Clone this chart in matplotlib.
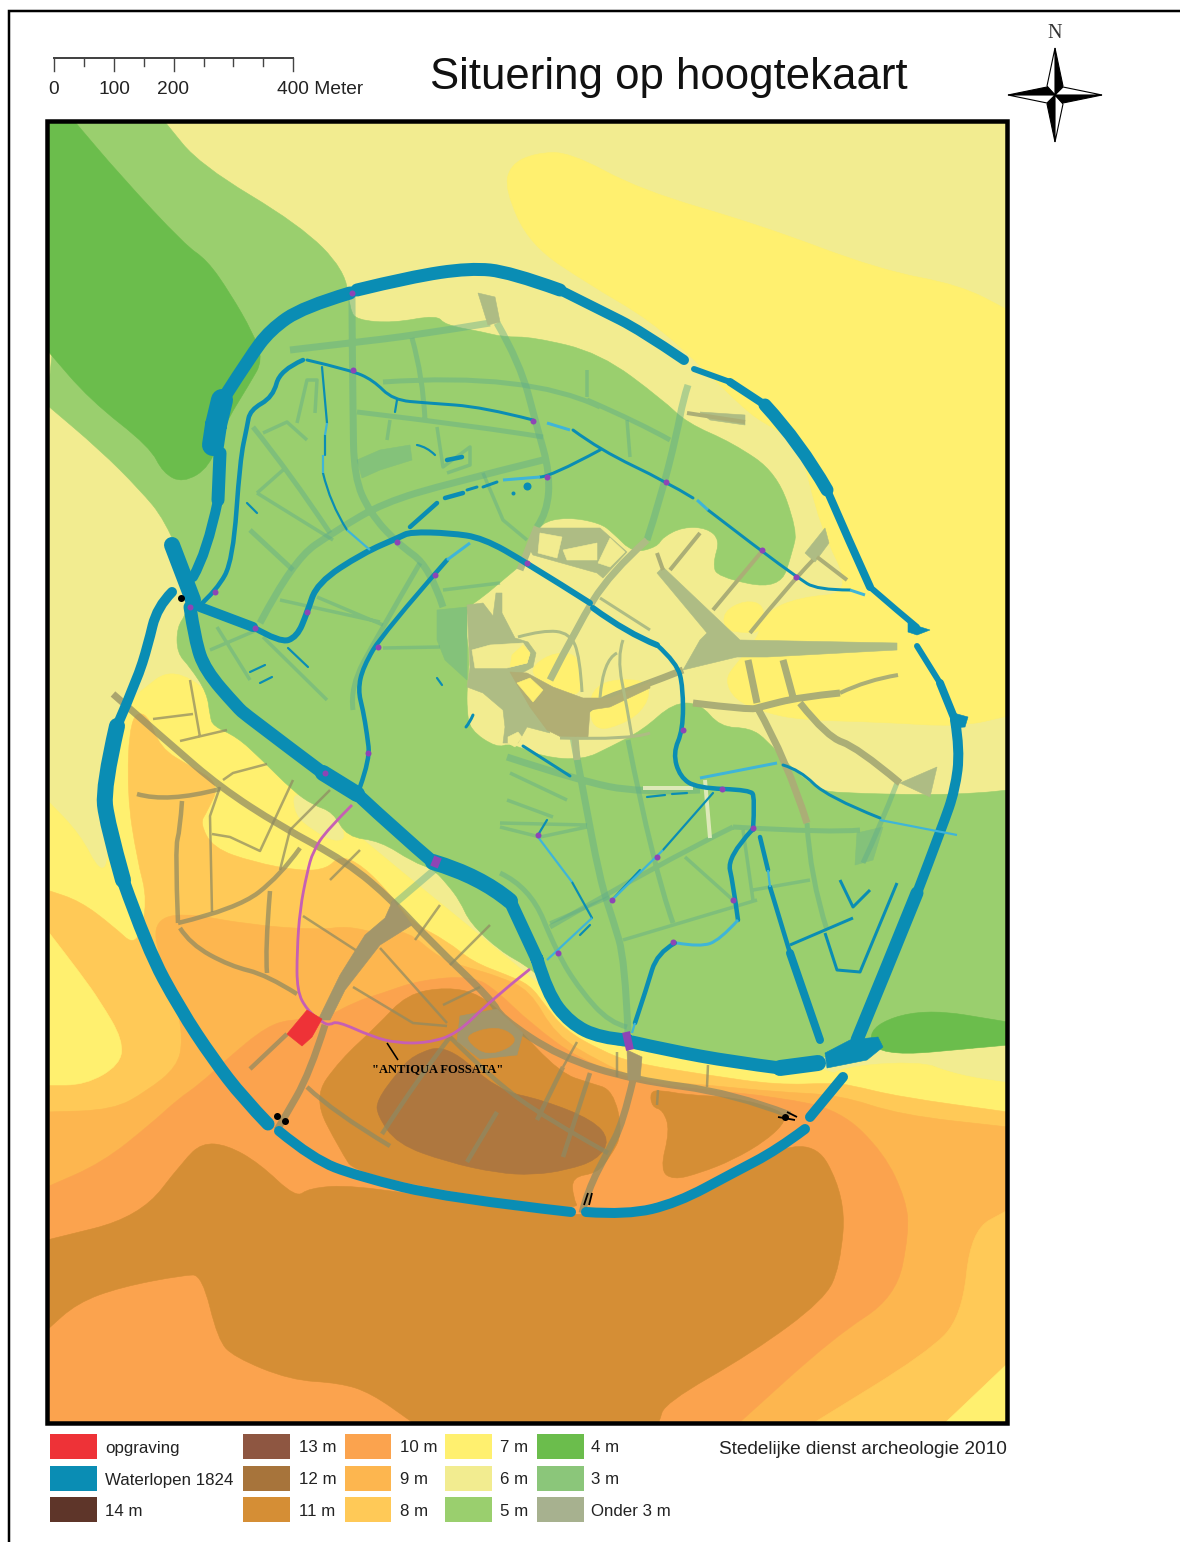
import matplotlib
matplotlib.use("Agg")
import matplotlib.pyplot as plt
from matplotlib.path import Path
from matplotlib.patches import PathPatch, Polygon, Rectangle

plt.rcParams['font.family'] = ['Liberation Sans', 'DejaVu Sans']

# all geometry, in picture pixels
h6_base = [(47, 122), (1008, 122), (1008, 1422), (47, 1422)]
h7_ne = [(505, 190), (510, 165), (535, 153), (570, 152), (640, 190), (760, 225), (880, 270), (960, 285), (1008, 310),
         (1008, 716), (960, 727), (880, 722), (800, 720), (763, 712), (735, 700), (725, 680), (735, 665), (757, 640),
         (765, 612), (800, 597), (853, 593), (820, 527), (800, 443), (767, 425), (745, 410), (700, 365), (650, 320),
         (590, 285), (530, 245)]
h7_patches = [[(590, 682), (647, 678), (650, 700), (630, 722), (590, 733)],
              [(533, 665), (555, 652), (580, 655), (582, 697), (560, 690), (533, 677)],
              [(723, 612), (745, 600), (765, 605), (762, 632), (745, 633), (725, 630)]]
h7_sw = [(47, 800), (80, 834), (100, 873), (110, 860), (113, 713), (130, 700), (180, 660), (260, 750), (350, 830),
         (560, 1000), (600, 1040), (850, 1068), (850, 1100), (600, 1090), (300, 1000), (137, 960), (47, 905)]
h7_sw_patch = [[(47, 930), (80, 973), (100, 1001), (123, 1040), (120, 1065), (85, 1085), (47, 1085)]]
h7_se = [(820, 1070), (917, 1060), (960, 1075), (1008, 1082), (1008, 1120), (840, 1100)]
h6_sw_patch = [(293, 790), (320, 808), (333, 812), (347, 837), (335, 842), (313, 830), (295, 815)]
h8_sw = [(47, 890), (80, 901), (113, 926), (137, 948), (148, 901), (137, 859), (127, 794), (130, 716), (147, 712),
         (160, 748), (190, 766), (220, 784), (207, 812), (200, 823), (213, 848), (253, 862), (300, 871), (327, 869),
         (340, 855), (363, 866), (390, 894), (413, 923), (447, 941), (473, 962), (507, 975), (530, 985), (545, 1005),
         (565, 1030), (600, 1050), (633, 1063), (707, 1075), (777, 1085), (833, 1083), (850, 1085), (900, 1097),
         (1008, 1112), (1008, 1422), (47, 1422)]
h7_se_corner = [(1008, 1363), (985, 1385), (946, 1422), (1008, 1422)]
h9_main = [(47, 1112), (113, 1110), (147, 1091), (177, 1067), (183, 1040), (176, 1000), (160, 960), (153, 923),
           (180, 912), (250, 925), (320, 930), (347, 926), (380, 934), (407, 930), (440, 959), (473, 969), (497, 976),
           (530, 990), (555, 1035), (600, 1062), (640, 1080), (707, 1085), (777, 1092), (840, 1095), (900, 1115),
           (1008, 1127), (1008, 1210), (971, 1230), (962, 1317), (927, 1353), (815, 1422), (47, 1422)]
h8_se = [(1008, 1210), (971, 1230), (962, 1317), (927, 1353), (815, 1422), (946, 1422), (985, 1385), (1008, 1363)]
h10_main = [(47, 1187), (102, 1163), (152, 1123), (177, 1100), (200, 1084), (227, 1059), (267, 1026), (293, 1019),
            (323, 1019), (357, 1001), (380, 994), (420, 980), (473, 976), (497, 991), (530, 1023), (580, 1060),
            (643, 1083), (707, 1090), (777, 1097), (840, 1110), (884, 1153), (906, 1200), (909, 1233), (896, 1297),
            (834, 1337), (740, 1422), (47, 1422)]
h11_south = [(47, 1240), (140, 1217), (184, 1160), (202, 1143), (227, 1145), (259, 1163), (296, 1198), (309, 1188),
             (352, 1185), (450, 1200), (580, 1220), (700, 1195), (809, 1130), (846, 1197), (840, 1267), (824, 1300),
             (752, 1353), (665, 1403), (659, 1422), (412, 1422), (371, 1393), (340, 1383), (290, 1380), (234, 1357),
             (218, 1340), (202, 1275), (184, 1275), (121, 1287), (77, 1303), (47, 1330)]
h11_centre = [(313, 1098), (340, 1060), (377, 1026), (407, 994), (447, 987), (480, 994), (513, 1023), (560, 1073),
              (590, 1083), (613, 1090), (623, 1133), (610, 1157), (597, 1173), (572, 1177), (573, 1197), (580, 1212),
              (357, 1176), (340, 1150)]
h11_east = [(650, 1092), (660, 1090), (687, 1095), (733, 1097), (780, 1110), (787, 1120), (767, 1140), (733, 1160),
            (700, 1173), (673, 1180), (660, 1170), (670, 1130), (663, 1110), (652, 1107)]
h12_core = [(377, 1100), (397, 1073), (413, 1055), (447, 1044), (497, 1090), (543, 1100), (593, 1120), (610, 1140),
            (597, 1160), (567, 1170), (533, 1175), (497, 1173), (447, 1162), (397, 1144), (377, 1115)]
h5_main = [(75, 122), (165, 122), (200, 165), (300, 225), (345, 270), (350, 310), (357, 320), (393, 323), (437, 315),
           (445, 325), (483, 332), (503, 337), (533, 337), (600, 353), (663, 400), (687, 423), (733, 443), (777, 473),
           (797, 530), (793, 550), (780, 590), (717, 577), (713, 563), (720, 540), (707, 528), (683, 527), (663, 537),
           (657, 547), (633, 553), (613, 533), (600, 523), (567, 517), (540, 523), (532, 543), (527, 560), (503, 580),
           (483, 597), (468, 607), (465, 627), (470, 657), (467, 687), (467, 710), (470, 730), (497, 748), (510, 743),
           (543, 757), (583, 760), (610, 747), (643, 730), (673, 703), (700, 703), (720, 727), (750, 728), (767, 740),
           (793, 770), (820, 790), (840, 793), (930, 795), (980, 793), (1008, 790), (1008, 1030), (923, 1015),
           (867, 1040), (860, 1045), (823, 1060), (733, 1062), (633, 1050), (573, 1033), (543, 980), (527, 966),
           (500, 951), (470, 923), (460, 901), (447, 884), (433, 869), (413, 862), (380, 841), (347, 837), (333, 812),
           (313, 805), (293, 791), (260, 758), (237, 737), (213, 726), (210, 716), (207, 693), (190, 667), (177, 653),
           (177, 627), (187, 613), (190, 580), (165, 520), (140, 490), (100, 450), (47, 405)]
h4_nw = [(47, 122), (75, 122), (120, 175), (185, 245), (207, 260), (230, 293), (253, 333), (263, 360), (250, 383),
         (223, 427), (210, 467), (183, 483), (163, 473), (150, 447), (90, 400), (47, 350)]
h4_se = [(867, 1027), (923, 1008), (1008, 1022), (1008, 1045), (987, 1047), (877, 1057)]
h6_se = [(917, 1060), (987, 1045), (1008, 1060), (1008, 1082), (960, 1075)]
h3_patches = [[(437, 610), (467, 607), (467, 680), (445, 660), (437, 640)],
              [(357, 460), (380, 450), (410, 445), (412, 460), (380, 470), (362, 478)],
              [(857, 833), (883, 827), (873, 860), (855, 865)]]

roads_green_wide = [[(352, 297), (352, 317), (353, 410), (354, 477), (370, 513), (397, 543), (430, 567), (443, 607)],
                    [(497, 323), (520, 363), (537, 427), (550, 473), (547, 513), (537, 527)],
                    [(260, 623), (293, 560), (337, 530), (383, 503), (450, 483), (543, 460)],
                    [(290, 350), (350, 343), (417, 335), (490, 323)],
                    [(688, 385), (683, 400), (677, 433), (660, 500), (647, 540)],
                    [(573, 737), (583, 790), (600, 880), (613, 920), (625, 960), (628, 1033)],
                    [(507, 757), (577, 780), (640, 793), (700, 790)],
                    [(393, 905), (440, 865)]]
roads_green_mid = [[(412, 338), (423, 377), (425, 420)], [(383, 382), (527, 372), (600, 407)],
                   [(357, 412), (483, 427), (543, 437)], [(253, 427), (290, 473), (330, 533)],
                   [(353, 710), (350, 687), (377, 637), (420, 563)], [(628, 740), (653, 867), (673, 923)],
                   [(733, 827), (660, 863), (550, 927)], [(733, 827), (833, 833), (860, 830)],
                   [(500, 873), (530, 887), (557, 953), (580, 990), (610, 1023), (627, 1027)],
                   [(807, 823), (810, 877), (827, 930)], [(897, 783), (880, 827), (863, 863)],
                   [(587, 400), (640, 423), (670, 440)], [(250, 530), (293, 570)]]
roads_green_thin = [[(280, 600), (380, 622)], [(317, 597), (383, 625)], [(210, 650), (257, 630)],
                    [(263, 637), (327, 700)], [(383, 648), (440, 647)], [(443, 590), (500, 583)],
                    [(390, 420), (387, 440)], [(437, 427), (443, 467), (470, 447), (470, 465), (447, 473)],
                    [(483, 473), (503, 520), (527, 540)], [(587, 370), (587, 397)], [(257, 493), (283, 470)],
                    [(263, 433), (287, 422), (307, 440)], [(297, 423), (307, 380), (317, 380), (315, 413)],
                    [(257, 493), (333, 540)], [(627, 420), (630, 457)], [(510, 773), (567, 800)],
                    [(507, 800), (553, 817)], [(500, 823), (587, 825)], [(753, 890), (810, 880)],
                    [(623, 940), (757, 900)], [(685, 857), (733, 900)], [(743, 830), (753, 900)],
                    [(550, 923), (610, 897)], [(500, 827), (540, 837), (587, 827)], [(217, 627), (250, 680)]]
roads_pale_wide = [[(693, 703), (750, 710), (760, 707), (800, 697), (840, 693)], [(757, 707), (787, 760), (807, 823)],
                   [(800, 703), (827, 737), (857, 747), (900, 783)], [(748, 660), (757, 703)],
                   [(783, 660), (793, 697)], [(683, 670), (640, 687), (600, 700), (587, 710)]]
roads_pale_thin = [[(840, 693), (867, 680), (898, 675)], [(687, 413), (745, 422)], [(700, 533), (670, 570)],
                   [(763, 550), (713, 610)], [(813, 560), (787, 587), (750, 633)], [(817, 557), (847, 580)],
                   [(657, 553), (663, 570)]]
roads_centre_wide = [[(647, 540), (610, 573), (577, 627), (550, 680)], [(537, 527), (520, 570)], [(575, 737), (577, 760)]]
roads_centre_thin = [[(518, 637), (543, 630), (570, 633), (580, 657), (582, 692)],
                     [(623, 640), (617, 657), (627, 707), (632, 737)], [(617, 653), (603, 660), (600, 698)],
                     [(600, 598), (650, 630)], [(560, 738), (630, 740), (650, 733)]]
olive_polys = [[(657, 573), (663, 567), (740, 640), (897, 643), (897, 650), (767, 657), (737, 657), (683, 670),
                (700, 640), (707, 633)],
               [(537, 528), (600, 528), (627, 552), (603, 578), (597, 573), (533, 555), (530, 550)],
               [(825, 528), (829, 543), (815, 562), (805, 553)],
               [(900, 783), (937, 767), (930, 797)],
               [(478, 293), (495, 297), (500, 322), (488, 325)],
               [(745, 415), (745, 425), (710, 420), (700, 412)],
               [(467, 605), (483, 603), (493, 616), (496, 593), (502, 593), (502, 613), (515, 638), (528, 642),
                (536, 653), (533, 667), (522, 673), (540, 710), (550, 733), (527, 727), (518, 743), (503, 743),
                (505, 727), (503, 710), (483, 693), (467, 687), (470, 667)]]
olive_dark_polys = [[(510, 672), (527, 673), (553, 687), (583, 698), (610, 698), (650, 682), (650, 688), (610, 707),
                     (590, 710), (588, 737), (563, 738), (547, 730), (530, 707)]]
pale_holes = [[(540, 533), (562, 537), (557, 558), (538, 553)], [(563, 550), (597, 543), (597, 560), (567, 560)],
              [(598, 563), (610, 538), (625, 552), (610, 567)],
              [(472, 650), (490, 645), (523, 643), (530, 653), (527, 663), (507, 668), (475, 668)],
              [(508, 737), (518, 732), (522, 737), (515, 747), (508, 743)]]
yellow_over = [[(512, 655), (523, 645), (530, 653), (527, 663), (510, 667)], [(517, 683), (530, 678), (543, 690), (533, 702)]]
roads_south_wide = [[(113, 694), (170, 744), (220, 787), (280, 826), (347, 862), (393, 901), (430, 941), (493, 1001),
                     (500, 1017), (560, 1057), (633, 1080), (733, 1093), (790, 1115)],
                    [(325, 1025), (310, 1073), (283, 1120), (277, 1130)],
                    [(633, 1080), (623, 1123), (607, 1153), (588, 1190), (582, 1213)]]
roads_south_mid = [[(137, 794), (167, 803), (220, 789)], [(182, 801), (180, 830), (175, 848), (178, 923)],
                   [(178, 923), (237, 909), (280, 876), (300, 848)], [(270, 891), (265, 951), (267, 973)],
                   [(287, 1034), (250, 1069)], [(307, 1087), (333, 1112), (390, 1146)],
                   [(382, 1134), (417, 1080), (450, 1037)], [(450, 1037), (493, 1080), (547, 1119), (608, 1153)],
                   [(497, 1112), (467, 1162)], [(563, 1067), (537, 1120)], [(590, 1073), (563, 1157)],
                   [(180, 928), (190, 944), (230, 966), (267, 975), (297, 994)]]
roads_south_thin = [[(220, 787), (210, 816), (212, 912)], [(212, 834), (230, 837), (260, 851), (293, 780)],
                    [(153, 719), (193, 714)], [(180, 741), (227, 730)], [(190, 680), (200, 737)],
                    [(223, 780), (233, 773), (267, 764)], [(303, 916), (357, 951)], [(380, 948), (447, 1023)],
                    [(353, 987), (413, 1023), (447, 1026)], [(617, 1052), (617, 1077)], [(708, 1065), (707, 1087)],
                    [(658, 1090), (657, 1105)], [(577, 1042), (563, 1067)], [(443, 1005), (480, 987)],
                    [(330, 790), (290, 830), (280, 870)], [(360, 850), (330, 880)], [(415, 940), (440, 905)],
                    [(450, 965), (490, 925)]]
south_polys = [[(393, 900), (412, 925), (380, 945), (345, 990), (330, 1020), (318, 1020), (340, 975), (365, 935),
                (385, 918)],
               [(460, 1016), (497, 1009), (523, 1033), (517, 1055), (480, 1059), (457, 1041)],
               [(627, 1050), (642, 1057), (640, 1080), (628, 1080)]]
h11_hole = [(467, 1034), (497, 1026), (517, 1037), (510, 1048), (487, 1055), (470, 1044)]

water_polys = [[(850, 1040), (878, 1037), (883, 1047), (867, 1060), (827, 1068), (825, 1053)],
               [(908, 623), (930, 630), (917, 635), (908, 632)],
               [(950, 712), (968, 717), (965, 727), (952, 728)]]
water_20 = [[(213, 445), (216, 425)], [(216, 425), (222, 400)]]
water_16 = [[(323, 773), (357, 794)], [(433, 862), (480, 876), (510, 901)], [(172, 545), (193, 600)],
            [(818, 1063), (780, 1068)], [(117, 726), (103, 787), (107, 823), (123, 880)]]
water_13 = [[(218, 500), (220, 453)], [(190, 607), (195, 640), (205, 670), (237, 707), (247, 716), (323, 773)],
            [(357, 794), (400, 834), (433, 862)], [(510, 901), (537, 959)],
            [(227, 393), (250, 357), (270, 330), (303, 307), (350, 293)],
            [(357, 290), (410, 277), (470, 268), (510, 272), (560, 290)],
            [(917, 893), (883, 977), (857, 1040)], [(537, 959), (547, 993), (570, 1023), (600, 1038), (627, 1040)],
            [(632, 1042), (667, 1050), (733, 1062), (780, 1068)], [(765, 405), (800, 443), (827, 490)],
            [(123, 880), (147, 948), (180, 1009), (213, 1059), (243, 1098), (268, 1124)]]
water_10 = [[(193, 577), (207, 553), (218, 500)], [(560, 290), (600, 310), (640, 330), (684, 360)],
            [(172, 592), (157, 607), (148, 645), (137, 680), (117, 726)],
            [(955, 720), (960, 750), (955, 790), (943, 825), (917, 893)],
            [(586, 1212), (627, 1215), (677, 1203), (733, 1173), (777, 1150), (805, 1129)],
            [(810, 1117), (843, 1077)], [(200, 607), (253, 627)],
            [(279, 1131), (313, 1159), (357, 1176), (447, 1198), (571, 1212)]]
water_8 = [[(730, 382), (765, 405)], [(827, 490), (850, 543), (870, 587)], [(940, 683), (955, 720)],
           [(790, 953), (820, 1040)]]
water_6 = [[(694, 369), (730, 382)], [(870, 587), (900, 613), (917, 627)], [(917, 646), (940, 683)],
           [(253, 627), (280, 643), (297, 637), (307, 613), (317, 583), (363, 553), (400, 537), (410, 532), (450, 533),
            (483, 538), (527, 563), (590, 603)],
           [(593, 608), (627, 633), (657, 645)]]
water_4 = [[(657, 645), (677, 663), (683, 687), (683, 730), (673, 753), (680, 777), (697, 788), (750, 790), (755, 797),
            (753, 830)],
           [(198, 607), (217, 590), (233, 560), (240, 460), (247, 427), (250, 410), (273, 397), (280, 370), (303, 360)],
           [(447, 560), (383, 633), (363, 667), (358, 690), (363, 710), (367, 734), (370, 759), (360, 787)],
           [(410, 527), (437, 503)], [(445, 498), (463, 493)], [(675, 943), (657, 953), (647, 987), (635, 1023)],
           [(752, 830), (727, 857), (733, 883), (738, 920)], [(760, 837), (768, 870)], [(770, 887), (790, 953)],
           [(447, 460), (462, 457)]]
water_3 = [[(307, 360), (350, 370), (373, 380), (393, 400), (427, 403), (483, 407), (533, 420)],
           [(573, 430), (600, 450), (667, 482), (693, 498)],
           [(708, 510), (760, 550), (797, 577), (817, 590), (850, 590)], [(783, 765), (800, 770), (827, 797), (880, 818)],
           [(540, 477), (550, 477), (600, 450)], [(467, 490), (477, 487)], [(483, 487), (497, 482)],
           [(523, 746), (570, 776)], [(473, 715), (470, 722), (466, 727)]]
water_sharp = [[(790, 945), (853, 918)], [(840, 880), (853, 907), (870, 890)],
               [(825, 933), (837, 970), (860, 972), (897, 883)]]
water_2 = [[(322, 367), (327, 423)], [(325, 435), (325, 455)], [(323, 473), (330, 503), (347, 530)],
           [(397, 400), (395, 412)], [(247, 503), (257, 513)], [(250, 672), (265, 665)], [(260, 683), (272, 677)],
           [(288, 648), (308, 667)], [(437, 678), (442, 685)], [(417, 445), (427, 447), (435, 455)],
           [(647, 797), (665, 795)], [(672, 794), (687, 793)], [(713, 793), (663, 850)], [(547, 820), (538, 835)],
           [(572, 882), (592, 918)], [(640, 870), (612, 900)], [(590, 925), (580, 935)]]
water_light_3 = [[(547, 423), (570, 430)], [(503, 480), (540, 477)], [(697, 500), (708, 510)], [(470, 543), (447, 560)],
                 [(700, 778), (777, 763)], [(738, 920), (720, 940), (700, 947), (677, 943)], [(850, 590), (865, 595)]]
water_light_2 = [[(347, 530), (370, 550)], [(880, 820), (957, 835)], [(538, 837), (572, 882)], [(663, 850), (612, 900)],
                 [(592, 918), (547, 960)], [(327, 423), (325, 435)], [(323, 455), (323, 473)], [(768, 870), (770, 887)],
                 [(635, 1023), (632, 1033)]]
pale_lines = [[(643, 788), (693, 788)], [(705, 780), (710, 838)]]
water_dots_big = [(527, 486)]
water_dots_small = [(513, 493)]
bridges = [(352, 293), (353, 370), (533, 421), (547, 477), (397, 542), (527, 563), (435, 575), (307, 612), (255, 628),
           (378, 647), (215, 592), (190, 607), (666, 482), (762, 550), (796, 577), (683, 730), (722, 789), (753, 828),
           (657, 857), (325, 773), (368, 753), (612, 900), (558, 953), (673, 942), (733, 900), (538, 835)]
bridges_big = [[(438, 857), (434, 867)], [(626, 1032), (630, 1050)]]
black_bits = [(181, 598), (277, 1116), (285, 1121), (785, 1117)]
black_lines = [[(584, 1205), (588, 1193)], [(589, 1205), (592, 1193)], [(778, 1117), (795, 1120)],
               [(787, 1112), (797, 1117)]]

ditch_line = [(352, 805), (327, 830), (313, 851), (307, 873), (300, 909), (297, 951), (297, 991), (307, 1010),
              (323, 1023), (330, 1025), (337, 1021), (373, 1037), (397, 1043), (427, 1043), (457, 1034), (490, 1001),
              (530, 969)]
leader_line = [(387, 1043), (398, 1060)]
dig_site = [(307, 1010), (322, 1019), (312, 1037), (302, 1046), (287, 1034)]
ditch_label = '"ANTIQUA FOSSATA"'

legend_labels = [["opgraving", "Waterlopen 1824", "14 m"], ["13 m", "12 m", "11 m"], ["10 m", "9 m", "8 m"],
                 ["7 m", "6 m", "5 m"], ["4 m", "3 m", "Onder 3 m"]]
legend_colors = [["#EE3237", "#0A8DB4", "#5E3529"], ["#8E5641", "#A7743B", "#D58E35"], ["#FBA34E", "#FDB64F", "#FFC957"],
                 ["#FFF06F", "#F2EC90", "#9ACF6E"], ["#6BBD4C", "#8BC67A", "#A7B18F"]]
legend_x = [50, 243, 345, 445, 537]
legend_text_x = [105, 299, 400, 500, 591]
legend_y = [1434, 1466, 1497]
scale_ticks = [54, 84, 114, 144, 174, 204, 233, 263, 293]
scale_labels = ["0", "100", "200", "400 Meter"]

WATER = "#0A8DB4"
LIGHT = "#3FB5D8"
PURPLE = "#8E45B5"


def px(w):
    return w * 0.72


def on_frame(p):
    return p[0] <= 47 or p[0] >= 1008 or p[1] <= 122 or p[1] >= 1422


def mid(a, b):
    return ((a[0] + b[0]) / 2, (a[1] + b[1]) / 2)


def closed_path(pts):
    # rounds every vertex except the ones on the map frame
    verts = [mid(pts[-1], pts[0])]
    codes = [Path.MOVETO]
    for i, p in enumerate(pts):
        end = mid(p, pts[(i + 1) % len(pts)])
        if on_frame(p):
            verts += [p, end]
            codes += [Path.LINETO, Path.LINETO]
        else:
            verts += [p, end]
            codes += [Path.CURVE3, Path.CURVE3]
    return Path(verts, codes)


def open_parts(g, smooth):
    if not smooth or len(g) < 3:
        return list(g), [Path.MOVETO] + [Path.LINETO] * (len(g) - 1)
    verts = [g[0]]
    codes = [Path.MOVETO]
    for i in range(1, len(g) - 1):
        end = g[-1] if i == len(g) - 2 else mid(g[i], g[i + 1])
        verts += [g[i], end]
        codes += [Path.CURVE3, Path.CURVE3]
    return verts, codes


fig = plt.figure(figsize=(11.8, 15.42), dpi=100)
ax = fig.add_axes([0, 0, 1, 1])
ax.set_xlim(0, 1180)
ax.set_ylim(1542, 0)
ax.axis("off")


def fill(pts, color, z=1, round_it=True):
    if round_it:
        ax.add_patch(PathPatch(closed_path(pts), fc=color, ec=color, lw=0.4, zorder=z))
    else:
        ax.add_patch(Polygon(pts, closed=True, fc=color, ec=color, lw=0.4, zorder=z))


def strokes(groups, width, color, z=3, alpha=1.0, cap="butt", smooth=True):
    verts, codes = [], []
    for g in groups:
        v, k = open_parts(g, smooth)
        verts += v
        codes += k
    ax.add_patch(PathPatch(Path(verts, codes), fc="none", ec=color, lw=px(width), alpha=alpha, zorder=z,
                           capstyle=cap, joinstyle="round"))


# height layers, painted from the base upwards
c = {"6": "#F2EC90", "7": "#FFF06F", "8": "#FFC957", "9": "#FDB64F", "10": "#FBA34E", "11": "#D58E35",
     "12": "#AE773F", "5": "#9ACF6E", "4": "#6BBD4C", "3": "#84C27A"}
fill(h6_base, c["6"], round_it=False)
fill(h7_ne, c["7"])
fill(h7_sw, c["7"])
fill(h7_se, c["7"])
fill(h6_sw_patch, c["6"])
fill(h8_sw, c["8"])
for p in h7_sw_patch:
    fill(p, c["7"])
fill(h9_main, c["9"])
fill(h8_se, c["8"])
fill(h7_se_corner, c["7"])
fill(h10_main, c["10"])
fill(h11_south, c["11"])
fill(h11_centre, c["11"])
fill(h11_east, c["11"])
fill(h12_core, c["12"])
fill(h5_main, c["5"])
fill(h4_nw, c["4"])
fill(h4_se, c["4"])
fill(h6_se, c["6"])
for p in h7_patches:
    fill(p, c["7"])
for p in h3_patches:
    fill(p, c["3"], z=2, round_it=False)

# streets
GREEN_ROAD = "#5FAD8A"
OLIVE = "#AEBC84"
strokes(roads_green_wide, 7, GREEN_ROAD, alpha=0.45, z=2)
strokes(roads_green_mid, 5, GREEN_ROAD, alpha=0.45, z=2)
strokes(roads_green_thin, 3.5, GREEN_ROAD, alpha=0.45, z=2, smooth=False)
for p in olive_polys:
    fill(p, OLIVE, z=2, round_it=False)
for p in olive_dark_polys:
    fill(p, "#B1AE74", z=2.05, round_it=False)
for p in pale_holes:
    fill(p, c["6"], z=2.1, round_it=False)
for p in yellow_over:
    fill(p, c["7"], z=2.15, round_it=False)
strokes(roads_centre_wide, 7, OLIVE, z=2.2)
strokes(roads_centre_thin, 3, OLIVE, z=2.2)
strokes(roads_pale_wide, 7, "#ABAE76", z=2)
strokes(roads_pale_thin, 4, "#ABAE76", z=2)
SOUTH_ROAD = "#8F8A62"
strokes(roads_south_wide, 7, SOUTH_ROAD, alpha=0.72, z=2)
strokes(roads_south_mid, 4.5, SOUTH_ROAD, alpha=0.72, z=2)
strokes(roads_south_thin, 2.5, SOUTH_ROAD, alpha=0.72, z=2, smooth=False)
for p in south_polys:
    fill(p, "#A3966A", z=2, round_it=False)
fill(h11_hole, c["11"], z=2.1)

# water
for p in water_polys:
    fill(p, WATER, z=3, round_it=False)
for groups, w in [(water_20, 22), (water_16, 16), (water_13, 13), (water_10, 10), (water_8, 8), (water_6, 6),
                  (water_4, 4.5), (water_3, 3), (water_2, 2.2)]:
    strokes(groups, w, WATER, cap="round")
strokes(water_sharp, 3, WATER, smooth=False)
strokes(water_light_3, 3, LIGHT)
strokes(water_light_2, 2.2, LIGHT)
strokes(pale_lines, 4, "#DDE9B8", z=2.5)
for x, y in water_dots_big:
    ax.plot(x, y, "o", ms=px(8), color=WATER, mew=0, zorder=3)
for x, y in water_dots_small:
    ax.plot(x, y, "o", ms=px(4), color=WATER, mew=0, zorder=3)
for x, y in bridges:
    ax.plot(x, y, "o", ms=px(6), color=PURPLE, mew=0, zorder=4)
strokes(bridges_big, 8, PURPLE, z=4)
for x, y in black_bits:
    ax.plot(x, y, "o", ms=px(7), color="black", mew=0, zorder=5)
strokes(black_lines, 1.8, "black", z=5)

# the ditch and the excavation
strokes([ditch_line], 2.8, "#C65FB4", z=4)
fill(dig_site, "#EE3237", z=4, round_it=False)
strokes([leader_line], 1.6, "black", z=4)
ax.text(438, 1069, ditch_label, family=["Liberation Serif"], weight="bold", fontsize=9, ha="center", va="center",
        zorder=5)

# frames
ax.add_patch(Rectangle((47, 121), 960, 1302, fc="none", ec="black", lw=px(4.5), zorder=6))
ax.plot([9, 9, 1180], [1542, 11, 11], color="black", lw=px(2.5), zorder=6, solid_joinstyle="miter")

# header
ax.text(669, 78, "Situering op hoogtekaart", fontsize=31.5, ha="center", va="center", color="#111111")
ax.plot(scale_ticks[:1] + scale_ticks[-1:], [58, 58], color="#444444", lw=px(2))
for i, x in enumerate(scale_ticks):
    ax.plot([x, x], [58, 71 if i in (0, 2, 4, 8) else 66], color="#444444", lw=px(1.4))
ax.text(54, 89, scale_labels[0], fontsize=13.8, ha="center", va="center", color="#222222")
ax.text(114, 89, scale_labels[1], fontsize=13.8, ha="center", va="center", color="#222222")
ax.text(173, 89, scale_labels[2], fontsize=13.8, ha="center", va="center", color="#222222")
ax.text(277, 89, scale_labels[3], fontsize=13.8, ha="left", va="center", color="#222222")

# compass: each spike has a black and a white half
ax.text(1055, 33, "N", family=["Liberation Serif"], fontsize=14.5, ha="center", va="center", color="#333333")
cx, cy = 1055, 95
for dx, dy, sx, sy, col in [(0, -47, 8, -9, "black"), (0, -47, -8, -9, "white"), (0, 47, -8, 9, "black"),
                            (0, 47, 8, 9, "white"), (47, 0, 8, 8, "black"), (47, 0, 8, -8, "white"),
                            (-47, 0, -8, -8, "black"), (-47, 0, -8, 8, "white")]:
    ax.add_patch(Polygon([(cx, cy), (cx + dx, cy + dy), (cx + sx, cy + sy)], fc=col, ec="black", lw=0.8, zorder=3))

# legend
for col in range(5):
    for row in range(3):
        w = 47 if col != 2 else 46
        ax.add_patch(Rectangle((legend_x[col], legend_y[row]), w, 24.5, fc=legend_colors[col][row], ec="none"))
        ax.text(legend_text_x[col], legend_y[row] + 14, legend_labels[col][row], fontsize=12.2, ha="left", va="center",
                color="#222222")
ax.text(1007, 1449, "Stedelijke dienst archeologie 2010", fontsize=13.7, ha="right", va="center", color="#222222")

fig.savefig("out.png", dpi=100)
